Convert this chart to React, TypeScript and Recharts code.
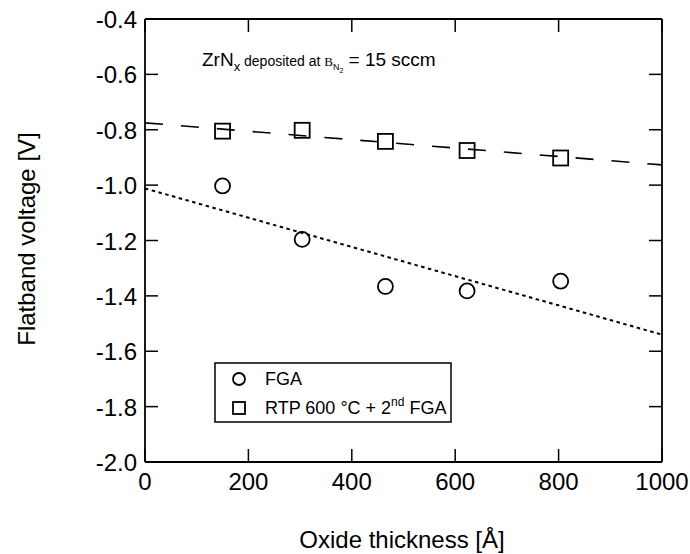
import React from 'react';
import { ComposedChart, XAxis, YAxis, Line, Scatter, Customized } from 'recharts';

const thickness = [150, 304, 465, 623, 804];
const fgaVoltage = [-1.003, -1.196, -1.366, -1.382, -1.347];
const rtpVoltage = [-0.805, -0.802, -0.842, -0.875, -0.902];
const fitThickness = [0, 1000];
const fgaFit = [-1.012, -1.54];
const rtpFit = [-0.775, -0.927];
const xTicks = [0, 200, 400, 600, 800, 1000];
const yTicks = [-2.0, -1.8, -1.6, -1.4, -1.2, -1.0, -0.8, -0.6, -0.4];
const seriesNames = ['FGA', 'RTP 600 °C + 2'];

const fgaData = thickness.map((x, i) => ({ x, y: fgaVoltage[i] }));
const rtpData = thickness.map((x, i) => ({ x, y: rtpVoltage[i] }));
const fgaFitData = fitThickness.map((x, i) => ({ x, y: fgaFit[i] }));
const rtpFitData = fitThickness.map((x, i) => ({ x, y: rtpFit[i] }));

const FONT = '"Liberation Sans", Arial, Helvetica, sans-serif';
const SERIF = '"Liberation Serif", "DejaVu Serif", serif';
const TICK_LEN = 13;
const TICK_W = 1.5;
const TICK_FS = 24;

const CircleShape = (p: any) => (
  <circle cx={p.cx} cy={p.cy} r={7.5} fill="none" stroke="#000" strokeWidth={1.8} />
);
const SquareShape = (p: any) => (
  <rect x={p.cx - 7.5} y={p.cy - 7.5} width={15} height={15} fill="none" stroke="#000" strokeWidth={1.8} />
);

const BottomTick = (p: any) => (
  <g>
    <line x1={p.x} y1={p.y} x2={p.x} y2={p.y - TICK_LEN} stroke="#000" strokeWidth={TICK_W} />
    <text x={p.x} y={p.y + 28} textAnchor="middle" fontSize={TICK_FS} fontFamily={FONT} fill="#000">
      {p.payload.value}
    </text>
  </g>
);
const TopTick = (p: any) => (
  <line x1={p.x} y1={p.y} x2={p.x} y2={p.y + TICK_LEN} stroke="#000" strokeWidth={TICK_W} />
);
const LeftTick = (p: any) => (
  <g>
    <line x1={p.x} y1={p.y} x2={p.x + TICK_LEN} y2={p.y} stroke="#000" strokeWidth={TICK_W} />
    <text x={p.x - 8} y={p.y + 9} textAnchor="end" fontSize={TICK_FS} fontFamily={FONT} fill="#000">
      {Number(p.payload.value).toFixed(1)}
    </text>
  </g>
);
const RightTick = (p: any) => (
  <line x1={p.x} y1={p.y} x2={p.x - TICK_LEN} y2={p.y} stroke="#000" strokeWidth={TICK_W} />
);

const Overlay = () => (
  <g fontFamily={FONT} fill="#000">
    <text x={202} y={66} fontSize={19}>
      <tspan>ZrN</tspan>
      <tspan fontSize={13} dy={5}>x</tspan>
      <tspan fontSize={14} dy={-5}> deposited at </tspan>
      <tspan fontFamily={SERIF} fontSize={13}>B</tspan>
      <tspan fontSize={9} dy={4}>N</tspan>
      <tspan fontSize={7} dy={3}>2</tspan>
      <tspan fontSize={19} dy={-7}> = 15 sccm</tspan>
    </text>
    <text x={26} y={239} fontSize={24} textAnchor="middle" dominantBaseline="central" transform="rotate(-90 26 239)">
      Flatband voltage [V]
    </text>
    <text x={402} y={548} fontSize={24} textAnchor="middle">Oxide thickness [Å]</text>
    <rect x={215} y={363} width={236} height={59} fill="#fff" stroke="#000" strokeWidth={1.5} />
    <circle cx={239} cy={379} r={6} fill="none" stroke="#000" strokeWidth={1.8} />
    <text x={265} y={385} fontSize={18}>{seriesNames[0]}</text>
    <rect x={233} y={402} width={12} height={12} fill="none" stroke="#000" strokeWidth={1.8} />
    <text x={265} y={414} fontSize={18}>
      <tspan>{seriesNames[1]}</tspan>
      <tspan fontSize={12} dy={-8}>nd</tspan>
      <tspan dy={8}> FGA</tspan>
    </text>
  </g>
);

const axisStroke = { stroke: '#000', strokeWidth: 1.8 };

export default function App() {
  return (
    <div style={{ position: 'absolute', left: 0, top: 0 }}>
      <ComposedChart width={690} height={554} margin={{ top: 18, right: 27, bottom: 0, left: 0 }}>
        <XAxis
          xAxisId="b"
          dataKey="x"
          type="number"
          domain={[0, 1000]}
          ticks={xTicks}
          height={92}
          tickSize={0}
          tickMargin={0}
          axisLine={axisStroke}
          tickLine={false}
          tick={BottomTick}
          interval={0}
        />
        <XAxis
          xAxisId="t"
          dataKey="x"
          orientation="top"
          type="number"
          domain={[0, 1000]}
          ticks={xTicks}
          height={1}
          tickSize={0}
          tickMargin={0}
          axisLine={axisStroke}
          tickLine={false}
          tick={TopTick}
          interval={0}
        />
        <YAxis
          yAxisId="l"
          dataKey="y"
          type="number"
          domain={[-2, -0.4]}
          ticks={yTicks}
          width={145}
          tickSize={0}
          tickMargin={0}
          axisLine={axisStroke}
          tickLine={false}
          tick={LeftTick}
          interval={0}
        />
        <YAxis
          yAxisId="r"
          dataKey="y"
          orientation="right"
          type="number"
          domain={[-2, -0.4]}
          ticks={yTicks}
          width={1}
          tickSize={0}
          tickMargin={0}
          axisLine={axisStroke}
          tickLine={false}
          tick={RightTick}
          interval={0}
        />
        <Line
          xAxisId="t"
          yAxisId="r"
          data={rtpFitData}
          dataKey="y"
          stroke="none"
          dot={false}
          activeDot={false}
          legendType="none"
          isAnimationActive={false}
        />
        <Line
          xAxisId="b"
          yAxisId="l"
          data={rtpFitData}
          dataKey="y"
          type="linear"
          stroke="#000"
          strokeWidth={1.6}
          strokeDasharray="18 18"
          dot={false}
          activeDot={false}
          isAnimationActive={false}
        />
        <Line
          xAxisId="b"
          yAxisId="l"
          data={fgaFitData}
          dataKey="y"
          type="linear"
          stroke="#000"
          strokeWidth={2}
          strokeDasharray="3.5 3.5"
          dot={false}
          activeDot={false}
          isAnimationActive={false}
        />
        <Scatter xAxisId="b" yAxisId="l" data={fgaData} dataKey="y" shape={CircleShape} isAnimationActive={false} />
        <Scatter xAxisId="b" yAxisId="l" data={rtpData} dataKey="y" shape={SquareShape} isAnimationActive={false} />
        <Customized component={Overlay} />
      </ComposedChart>
    </div>
  );
}
